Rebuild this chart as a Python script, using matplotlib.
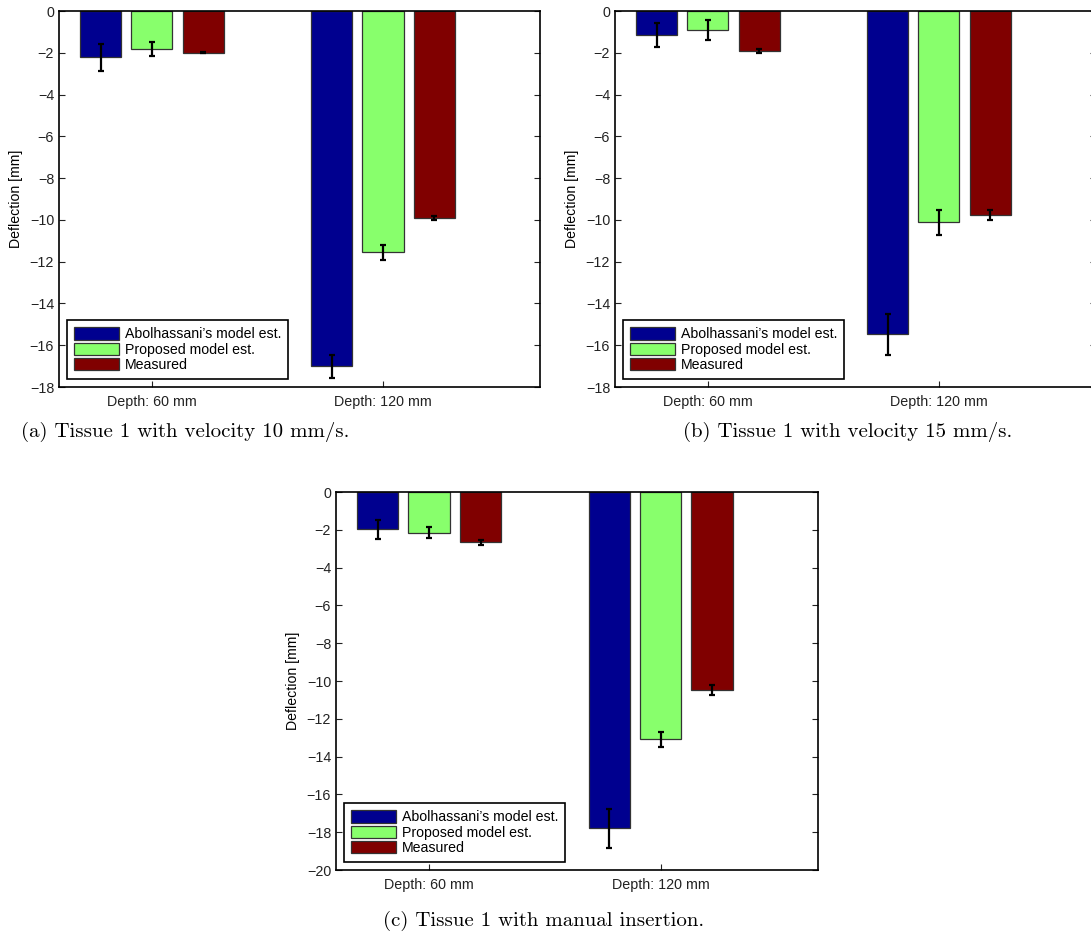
import matplotlib
matplotlib.use("Agg")
import matplotlib.pyplot as plt
import numpy as np

plt.rcParams["font.family"] = ["Liberation Sans", "DejaVu Sans"]

CATEGORIES = ["Depth: 60 mm", "Depth: 120 mm"]
SERIES = ["Abolhassani\u2019s model est.", "Proposed model est.", "Measured"]
COLORS = ["#00008F", "#88FF6C", "#800000"]

# deflection means [mm], one row per series, one column per depth
A_MEAN = [[-2.22, -17.0], [-1.80, -11.55], [-1.99, -9.89]]
A_ERR = [[0.64, 0.55], [0.33, 0.37], [0.04, 0.10]]
B_MEAN = [[-1.15, -15.48], [-0.91, -10.12], [-1.91, -9.76]]
B_ERR = [[0.57, 0.99], [0.46, 0.61], [0.08, 0.24]]
C_MEAN = [[-1.96, -17.79], [-2.15, -13.08], [-2.65, -10.47]]
C_ERR = [[0.50, 1.04], [0.29, 0.40], [0.13, 0.27]]

CAPTIONS = [
    "(a) Tissue 1 with velocity 10 mm/s.",
    "(b) Tissue 1 with velocity 15 mm/s.",
    "(c) Tissue 1 with manual insertion.",
]
YMIN = [-18, -18, -20]

fig = plt.figure(figsize=(10.91, 9.36), dpi=100)
axes = [
    fig.add_axes([0.0541, 0.5865, 0.4409, 0.4017]),
    fig.add_axes([0.5637, 0.5865, 0.4409, 0.4017]),
    fig.add_axes([0.3080, 0.0705, 0.4418, 0.4038]),
]
caption_pos = [(185 / 1091, 1 - 432 / 936), (848 / 1091, 1 - 432 / 936), (544 / 1091, 1 - 921 / 936)]

x = np.arange(1, len(CATEGORIES) + 1)
step = 0.2222
width = 0.178

for ax, means, errs, ymin in zip(axes, [A_MEAN, B_MEAN, C_MEAN], [A_ERR, B_ERR, C_ERR], YMIN):
    for i, (name, col) in enumerate(zip(SERIES, COLORS)):
        pos = x + (i - 1) * step
        ax.bar(pos, means[i], width, color=col, edgecolor="#333333", linewidth=0.9, label=name, zorder=2)
        ax.errorbar(pos, means[i], yerr=errs[i], fmt="none", ecolor="black",
                    elinewidth=1.6, capsize=2.5, capthick=1.6, zorder=3)

    ax.set_xlim(0.598, 2.68)
    ax.set_ylim(ymin, 0)
    ax.set_yticks(np.arange(ymin, 1, 2))
    ax.set_xticks(x)
    ax.set_xticklabels(CATEGORIES, fontsize=10.2)
    ax.tick_params(direction="in", length=4, width=0.8, labelsize=10.3, right=True, colors="#222222")
    ax.tick_params(axis="x", pad=6)
    ax.set_ylabel("Deflection [mm]", fontsize=10.2, labelpad=5)
    for spine in ax.spines.values():
        spine.set_linewidth(1.2)
        spine.set_edgecolor("black")

    leg = ax.legend(loc="lower left", fontsize=10.2, fancybox=False, framealpha=1,
                    edgecolor="black", handlelength=3.2, handleheight=0.95,
                    handletextpad=0.4, borderpad=0.5, labelspacing=0.1,
                    borderaxespad=0.55)
    leg.get_frame().set_linewidth(1.2)

for (cx, cy), text in zip(caption_pos, CAPTIONS):
    fig.text(cx, cy, text, ha="center", va="center", fontsize=15, family="cmr10")

plt.savefig("out.png", dpi=100)
